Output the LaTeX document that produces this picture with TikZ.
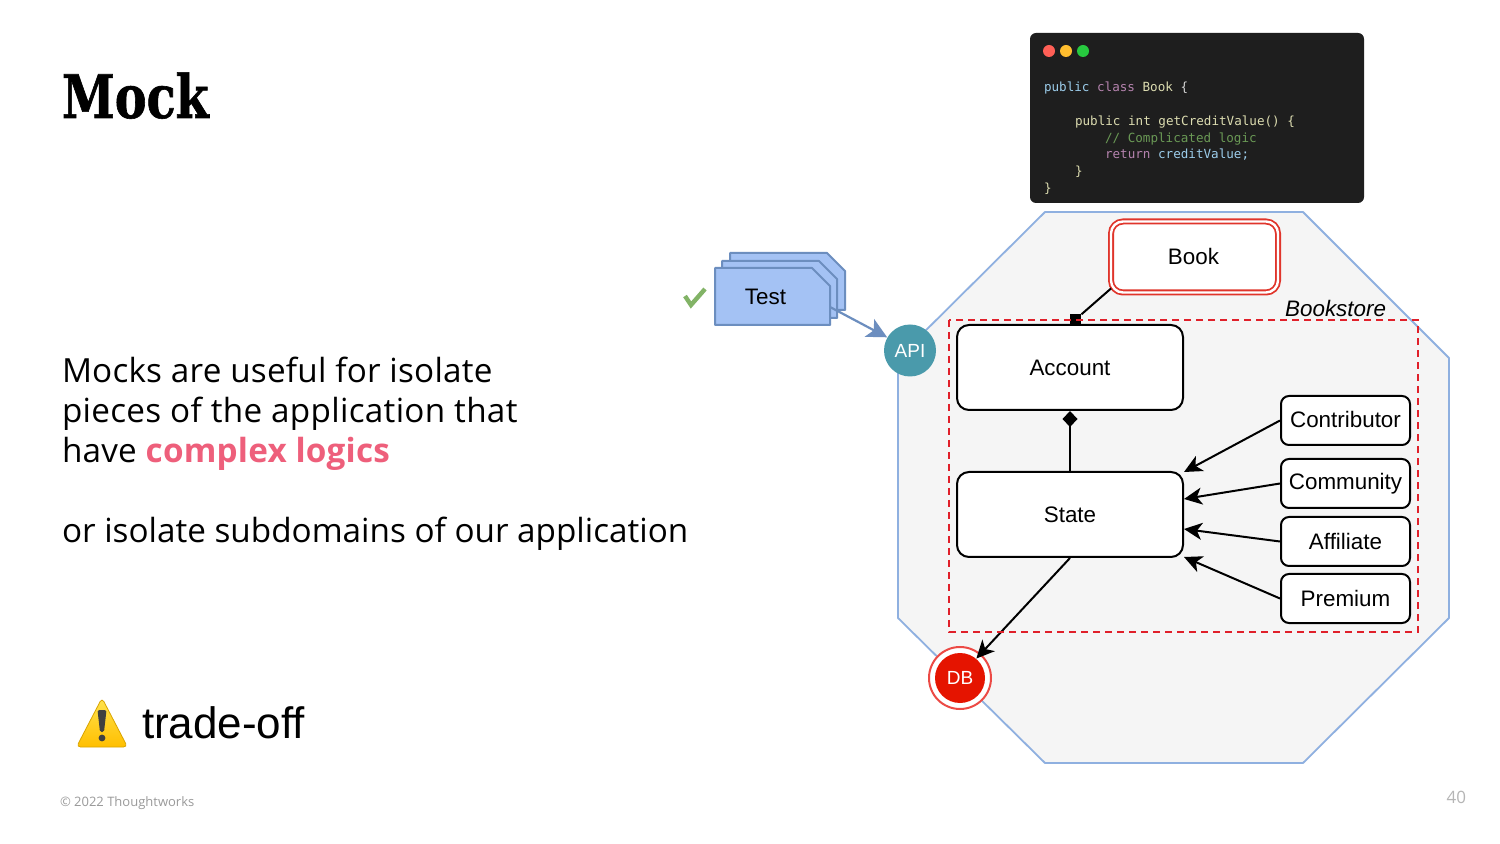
\documentclass[tikz,border=0pt]{standalone}
\usepackage{fontspec}
\usetikzlibrary{arrows.meta,calc,shadings}
\setmainfont{Liberation Sans}
\newfontfamily\titlefont{DejaVu Serif}[BoldFont={DejaVu Serif Bold},BoldFeatures={FakeStretch=0.795,FakeBold=1}]
\newfontfamily\bodyfont{Open Sans}
\newfontfamily\codefont{DejaVu Sans Mono}
\definecolor{octfill}{HTML}{F5F5F5}
\definecolor{octline}{HTML}{8FB0E0}
\definecolor{dashred}{HTML}{E0202A}
\definecolor{bookred}{HTML}{E0352B}
\definecolor{testfill}{HTML}{A4C2F4}
\definecolor{testline}{HTML}{6C8EBF}
\definecolor{apifill}{HTML}{4A9AAB}
\definecolor{dbfill}{HTML}{E51400}
\definecolor{dbring}{HTML}{EC4A45}
\definecolor{pinkish}{HTML}{EE5F7B}
\definecolor{codebg}{HTML}{1E1E1E}
\definecolor{cblue}{HTML}{9CCDEB}
\definecolor{cpurple}{HTML}{B583AE}
\definecolor{ccream}{HTML}{DCDCB0}
\definecolor{cgreen}{HTML}{6A9955}
\definecolor{cplain}{HTML}{D4D4D4}
\definecolor{footgray}{HTML}{9A9A9A}
\definecolor{pagegray}{HTML}{B5B5B5}
\definecolor{checkgreen}{HTML}{82B366}
\definecolor{dotred}{HTML}{FF5F56}
\definecolor{dotamber}{HTML}{FFBD2E}
\definecolor{dotgreen}{HTML}{27C93F}
\definecolor{warntop}{HTML}{FFE34F}
\definecolor{warnbottom}{HTML}{FFBF00}
\definecolor{warnedge}{HTML}{D9A400}
\tikzset{
  px/.style={x=0.5pt,y=-0.5pt},
  plain/.style={inner sep=0pt,outer sep=0pt},
  bigbox/.style={draw=black,line width=1pt,fill=white,rounded corners=6pt,minimum width=113pt,minimum height=42.5pt,inner sep=0pt,font=\fontsize{11.2}{13}\selectfont},
  smallbox/.style={draw=black,line width=1pt,fill=white,rounded corners=4pt,minimum width=64.5pt,minimum height=24.5pt,inner sep=0pt,font=\fontsize{11.2}{13}\selectfont},
  conn/.style={draw=black,line width=1pt},
  arrowed/.style={conn,-{Stealth[length=9pt,width=8.5pt,inset=2.5pt]}},
  codeline/.style={anchor=base west,inner sep=0pt,outer sep=0pt,font=\codefont\fontsize{6.3}{7}\selectfont},
  testcard/.style={draw=testline,line width=1pt,fill=testfill,line join=round},
}
\begin{document}
\begin{tikzpicture}[px]
\useasboundingbox (0,0) rectangle (1500,844);
\fill[white] (0,0) rectangle (1500,844);

% left column
\node[plain,anchor=base west,font=\titlefont\bfseries\fontsize{30}{34}\selectfont] (title) at (62,118) {Mock};
\node[plain,anchor=north west,align=left,font=\bodyfont\fontsize{16.63}{20}\selectfont] (body) at (62,357)
 {{\addfontfeature{LetterSpace=0.64}Mocks are useful for isolate}\\{\addfontfeature{LetterSpace=0.9}pieces of the application that}\\{\addfontfeature{LetterSpace=0.63}have {\bfseries\color{pinkish}complex logics}}\\\mbox{}\\or isolate subdomains of our application};

% warning sign
\shade[top color=warntop,bottom color=warnbottom,draw=warnedge,line width=0.4pt,rounded corners=2pt]
  (102,698) -- (127.5,747) -- (76.5,747) -- cycle;
\fill[black!75,rounded corners=0.8pt] (97.5,710) -- (106.5,710) -- (104,732) -- (100,732) -- cycle;
\fill[black!75] (102,738) circle (3.4);
\node[plain,anchor=base west,font=\fontsize{22}{26}\selectfont] (trade) at (142,738.5) {trade-off};

% footer
\node[plain,anchor=base west,text=footgray,font=\bodyfont\fontsize{6.5}{8}\selectfont] (copy) at (60,806) {© 2022 Thoughtworks};
\node[plain,anchor=base east,text=pagegray,font=\bodyfont\fontsize{8.5}{10}\selectfont] (page) at (1466,803) {40};

% code window
\fill[codebg,rounded corners=3pt] (1030,33) rectangle (1364,203);
\fill[dotred] (1049,51) circle (6);
\fill[dotamber] (1066,51) circle (6);
\fill[dotgreen] (1083,51) circle (6);
\node[codeline,text=cplain] (c1) at (1044,92) {\textcolor{cblue}{public} \textcolor{cpurple}{class} \textcolor{ccream}{Book} \{};
\node[codeline,text=ccream] (c2) at (1075,126) {public int getCreditValue() \{};
\node[codeline,text=cgreen] (c3) at (1105,143) {// Complicated logic};
\node[codeline,text=cblue] (c4) at (1105,159) {\textcolor{cpurple}{return} creditValue;};
\node[codeline,text=ccream] (c5) at (1075,176) {\}};
\node[codeline,text=ccream] (c6) at (1044,193) {\}};

% octagon
\draw[draw=octline,fill=octfill,line width=0.9pt,line join=round]
  (1045,212) -- (1303,212) -- (1449,358) -- (1449,618) -- (1303,763) -- (1045,763) -- (898,618) -- (898,358) -- cycle;

% test cards
\draw[testcard] (730,253) -- (827,253) -- (845,271) -- (845,310) -- (730,310) -- cycle;
\draw[testcard] (722,261) -- (819,261) -- (837,279) -- (837,318) -- (722,318) -- cycle;
\draw[testcard] (715,268) -- (812,268) -- (830,286) -- (830,325) -- (715,325) -- cycle;
\node[plain,font=\fontsize{11.2}{13}\selectfont] (test) at (765.5,296.5) {Test};
\draw[draw=checkgreen,line width=2.2pt] (685,296) -- (691,305) -- (705,289);

% diagram nodes
\node[bigbox] (account) at (1070,367.5) {\raisebox{0pt}{Account}};
\node[bigbox] (state) at (1070,514.5) {\raisebox{0pt}{State}};
\node[smallbox] (contributor) at (1345.5,420.5) {\raisebox{1pt}{Contributor}};
\node[smallbox] (community) at (1345.5,483.5) {\raisebox{-0.5pt}{Community}};
\node[smallbox] (affiliate) at (1345.5,541.5) {Affiliate};
\node[smallbox] (premium) at (1345.5,598.5) {Premium};
\node[draw=bookred,double=white,double distance=1.2pt,line width=0.9pt,fill=white,rounded corners=6pt,minimum width=83.5pt,minimum height=35.5pt,inner sep=0pt,font=\fontsize{11.2}{13}\selectfont] (book) at (1194.5,257) {\hspace{-1pt}\raisebox{0.5pt}{Book}};

\node[circle,fill=apifill,text=white,minimum size=26pt,inner sep=0pt,font=\fontsize{9.5}{11}\selectfont] (api) at (910,350.5) {API};
\node[circle,draw=dbring,fill=white,line width=1pt,minimum size=31pt,inner sep=0pt] (dbring) at (960,678) {};
\node[circle,fill=dbfill,text=white,minimum size=25pt,inner sep=0pt,font=\fontsize{9.5}{11}\selectfont] (db) at (960,678) {DB};

\node[plain,anchor=base east,font=\itshape\fontsize{11.2}{13}\selectfont] (bookstore) at (1386,317) {Bookstore};

% connectors
\node[fill=black,minimum size=5.5pt,inner sep=0pt] (bookmark) at (1075.5,319.5) {};
\coordinate (contribend) at (1184,472);
\coordinate (commend) at (1184,499);
\coordinate (affend) at (1184,529);
\coordinate (premend) at (1184,557);
\coordinate (teststart) at (830,307);
\draw[conn] (book.south west) ++(1,-5) -- (bookmark);
\draw[conn,-{Diamond[length=8pt,width=7.5pt]}] (state.north) -- (account.south);
\draw[arrowed] (contributor.west) -- (contribend);
\draw[arrowed] (community.west) -- (commend);
\draw[arrowed] (affiliate.west) -- (affend);
\draw[arrowed] (premium.west) -- (premend);
\draw[arrowed] (state.south) -- (db.50);
\draw[draw=testline,line width=1.1pt,-{Stealth[length=10pt,width=10pt,inset=2.5pt]}] (teststart) -- (api.150);

% bookstore frame
\draw[draw=dashred,line width=0.9pt,dash pattern=on 3.4pt off 2.6pt] (949,320) rectangle (1418,632);
\end{tikzpicture}
\end{document}
